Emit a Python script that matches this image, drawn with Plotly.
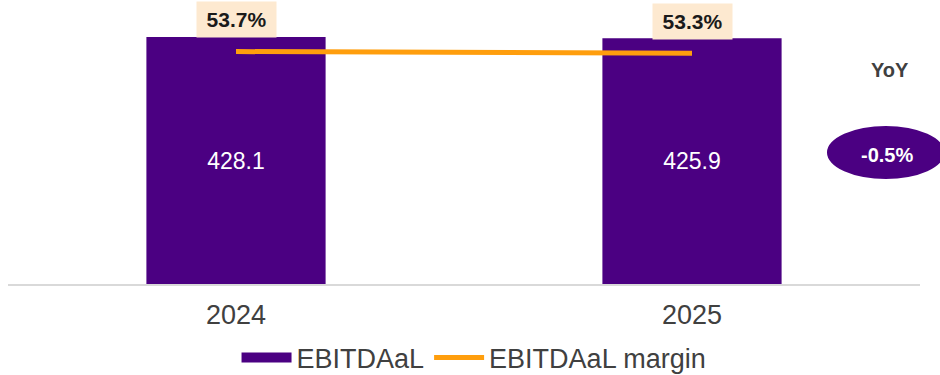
import plotly.graph_objects as go

years = ["2024", "2025"]
ebitdaal = [428.1, 425.9]
margin = [53.7, 53.3]
margin_labels = ["53.7%", "53.3%"]
yoy_label = "-0.5%"

PURPLE = "#4B0082"
ORANGE = "#FF9E0D"
FONT = "Liberation Sans, Arial, sans-serif"

fig = go.Figure()

fig.add_trace(go.Bar(
    x=years, y=ebitdaal, width=0.393,
    marker=dict(color=PURPLE, line=dict(width=0)),
    texttemplate="%{y:.1f}", textposition="inside", insidetextanchor="middle",
    textfont=dict(color="white", size=23, family=FONT),
    showlegend=False, name="EBITDAaL",
))
# legend proxies
fig.add_trace(go.Scatter(x=[None], y=[None], mode="lines", name="EBITDAaL",
                         line=dict(color=PURPLE, width=10)))
fig.add_trace(go.Scatter(x=[None], y=[None], mode="lines", name="EBITDAaL margin",
                         line=dict(color=ORANGE, width=5)))

fig.add_trace(go.Scatter(
    x=years, y=margin, mode="lines", yaxis="y2",
    line=dict(color=ORANGE, width=5), showlegend=False, name="EBITDAaL margin",
))

for i, (m, lab) in enumerate(zip(margin, margin_labels)):
    fig.add_annotation(x=i, y=m, xref="x", yref="y2", text="<b>" + lab + "</b>",
                       showarrow=False, yshift=32, bgcolor="#FDE9D0",
                       xanchor="center", yanchor="middle",
                       width=77, height=33,
                       font=dict(size=21, color="#1a1a1a", family=FONT))

fig.add_annotation(x=0.967, y=0.781, xref="paper", yref="paper", text="<b>YoY</b>",
                   xanchor="center", yanchor="middle",
                   showarrow=False, font=dict(size=20, color="#404040", family=FONT))
fig.add_shape(type="circle", xref="paper", yref="paper",
              x0=0.898, x1=1.027, y0=0.383, y1=0.577,
              fillcolor=PURPLE, line=dict(width=0), layer="above")
fig.add_annotation(x=0.964, y=0.471, xref="paper", yref="paper", text="<b>" + yoy_label + "</b>",
                   xanchor="center", yanchor="middle",
                   showarrow=False, font=dict(size=20, color="white", family=FONT))

fig.update_layout(
    width=940, height=375,
    margin=dict(l=8, r=20, t=10, b=91, autoexpand=False),
    paper_bgcolor="white", plot_bgcolor="white",
    font=dict(family=FONT, color="#404040"),
    xaxis=dict(type="category", range=[-0.5, 1.5], showline=True, linecolor="#d9d9d9",
               linewidth=2, showgrid=False, ticks="", tickfont=dict(size=27, color="#404040"),
               ticklabelstandoff=6, automargin=False),
    yaxis=dict(range=[0, 474.9], visible=False, showgrid=False, automargin=False),
    yaxis2=dict(range=[0, 63.3], overlaying="y", visible=False, showgrid=False, automargin=False),
    legend=dict(orientation="h", x=0.511, xanchor="center", y=-0.27, yanchor="middle",
                font=dict(size=27, color="#404040"), itemwidth=50,
                traceorder="normal"),
    showlegend=True,
)

fig.write_html("out.html")
